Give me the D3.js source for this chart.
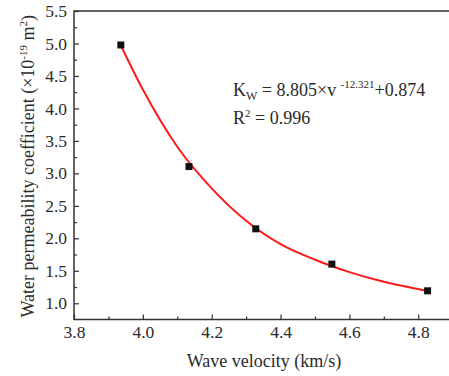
<!DOCTYPE html>
<html>
<head>
<meta charset="utf-8">
<script src="https://cdn.jsdelivr.net/npm/d3@7"></script>
<style>
  body { margin: 0; background: #fff; }
  svg text { font-family: "Liberation Serif", "Times New Roman", serif; fill: #2a2a2a; }
</style>
</head>
<body>
<div id="chart"></div>
<script>
// measured points
var velocity = [3.936, 4.134, 4.328, 4.549, 4.827],
    permeability = [4.977, 3.105, 2.146, 1.603, 1.192];

// fitted curve
var fitV = [3.936, 4.0, 4.1, 4.2, 4.3, 4.4, 4.5, 4.6, 4.7, 4.827],
    fitK = [4.97, 4.29, 3.41, 2.77, 2.27, 1.91, 1.67, 1.48, 1.33, 1.19];

var xMajor = [3.8, 4.0, 4.2, 4.4, 4.6, 4.8],
    xMinor = [3.9, 4.1, 4.3, 4.5, 4.7],
    yMajor = [1.0, 1.5, 2.0, 2.5, 3.0, 3.5, 4.0, 4.5, 5.0, 5.5],
    yMinor = [1.25, 1.75, 2.25, 2.75, 3.25, 3.75, 4.25, 4.75, 5.25];

var W = 449, H = 376,
    m = {t: 11, l: 74, b: 319.5, r: 452.7};

var svg = d3.select("#chart")
  .append("svg")
  .attr("width", W)
  .attr("height", H);

var x = d3.scaleLinear().domain([3.8, 4.9]).range([m.l, m.r]),
    y = d3.scaleLinear().domain([0.75, 5.5]).range([m.b, m.t]);

var axisColor = "#333";

// frame
svg.append("rect")
  .attr("x", m.l).attr("y", m.t)
  .attr("width", m.r - m.l).attr("height", m.b - m.t)
  .attr("fill", "none")
  .attr("stroke", axisColor)
  .attr("stroke-width", 1.5);

// minor ticks first
svg.append("g")
  .attr("transform", "translate(" + m.l + ",0)")
  .call(d3.axisLeft(y).tickValues(yMinor).tickSize(-3).tickFormat(""))
  .call(function(g){ g.select(".domain").remove(); });

svg.append("g")
  .attr("transform", "translate(0," + m.b + ")")
  .call(d3.axisBottom(x).tickValues(xMinor).tickSize(-3).tickFormat(""))
  .call(function(g){ g.select(".domain").remove(); });

// major ticks + labels
var yAxis = svg.append("g")
  .attr("transform", "translate(" + m.l + ",0)")
  .call(d3.axisLeft(y).tickValues(yMajor).tickSize(-5).tickPadding(7).tickFormat(d3.format(".1f")));

var xAxis = svg.append("g")
  .attr("transform", "translate(0," + m.b + ")")
  .call(d3.axisBottom(x).tickValues(xMajor).tickSize(-5).tickPadding(6).tickFormat(d3.format(".1f")));

[yAxis, xAxis].forEach(function(g){
  g.select(".domain").remove();
  g.selectAll("text").style("font-size", "17.5px").attr("fill", "#2a2a2a");
});
svg.selectAll(".tick line").attr("stroke", axisColor).attr("stroke-width", 1.2);

// fitted curve
var fitData = fitV.map(function(v, i){ return {v: v, k: fitK[i]}; });
var line = d3.line()
  .x(function(d){ return x(d.v); })
  .y(function(d){ return y(d.k); })
  .curve(d3.curveMonotoneX);

svg.append("path")
  .datum(fitData)
  .attr("d", line)
  .attr("fill", "none")
  .attr("stroke", "#ff1a1a")
  .attr("stroke-width", 2);

// points
svg.selectAll(".pt")
  .data(velocity.map(function(v, i){ return {v: v, k: permeability[i]}; }))
  .enter().append("rect")
  .attr("class", "pt")
  .attr("x", function(d){ return x(d.v) - 3.5; })
  .attr("y", function(d){ return y(d.k) - 3.5; })
  .attr("width", 7).attr("height", 7)
  .attr("fill", "#111");

// axis titles
svg.append("text")
  .attr("x", 264)
  .attr("y", 367)
  .attr("text-anchor", "middle")
  .style("font-size", "18px")
  .text("Wave velocity (km/s)");

var yt = svg.append("text")
  .attr("transform", "translate(34," + ((m.t + m.b) / 2 + 1) + ") rotate(-90)")
  .attr("text-anchor", "middle")
  .style("font-size", "18px");
yt.append("tspan").text("Water permeability coefficient (\u00d710");
yt.append("tspan").attr("dy", -7).style("font-size", "11px").text("-19");
yt.append("tspan").attr("dy", 7).text(" m");
yt.append("tspan").attr("dy", -7).style("font-size", "11px").text("2");
yt.append("tspan").attr("dy", 7).text(")");

// equation
var eq = svg.append("text")
  .attr("x", 233).attr("y", 96)
  .style("font-size", "18px");
eq.append("tspan").text("K");
eq.append("tspan").attr("dy", 4).style("font-size", "12px").text("W");
eq.append("tspan").attr("dy", -4).text(" = 8.805\u00d7v ");
eq.append("tspan").attr("dy", -8).style("font-size", "11px").text("-12.321");
eq.append("tspan").attr("dy", 8).text("+0.874");

var r2 = svg.append("text")
  .attr("x", 233).attr("y", 124)
  .style("font-size", "18px");
r2.append("tspan").text("R");
r2.append("tspan").attr("dy", -7).style("font-size", "11px").text("2");
r2.append("tspan").attr("dy", 7).text(" = 0.996");
</script>
</body>
</html>
